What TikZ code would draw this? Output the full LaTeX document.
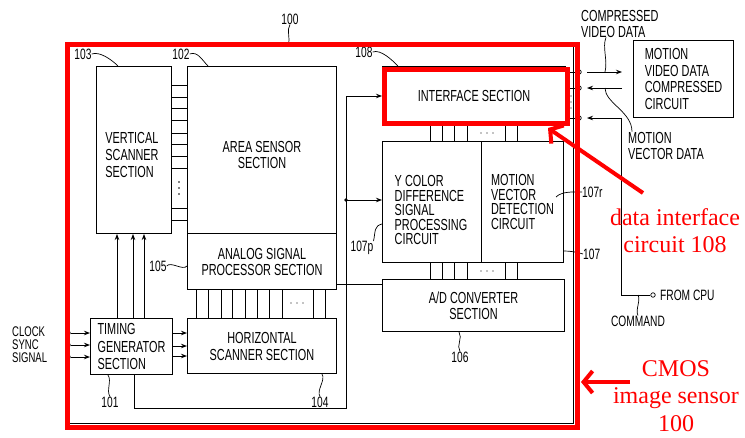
\documentclass[tikz,border=0pt]{standalone}
\usepackage{fontspec}
\newfontfamily\chipfam[FakeStretch=0.68]{Liberation Sans}
\newfontfamily\notefam{Liberation Serif}
\usetikzlibrary{
    arrows.meta,
    positioning
}

\begin{document}
\begin{tikzpicture}[x=1pt,y=-1pt,
    blk/.style={draw,line width=1pt,inner sep=0pt,anchor=north west,
        font=\chipfam\fontsize{16}{16}\selectfont,align=center},
    txt/.style={inner sep=0pt,font=\chipfam\fontsize{16}{16}\selectfont,align=left},
    num/.style={inner sep=0pt,font=\chipfam\fontsize{15}{16}\selectfont},
    lead/.style={line width=0.7pt},
    wire/.style={line width=0.9pt},
    sig/.style={line width=0.9pt,-{Stealth[length=6pt,width=4.5pt]}},
    term/.style={circle,draw,fill=white,line width=0.7pt,inner sep=0pt,minimum size=4.5pt},
    note/.style={inner sep=0pt,text=red,font=\notefam\fontsize{24}{27.5}\selectfont,align=center},
    callout/.style={red,line width=4pt,-{Straight Barb[length=9pt,width=22pt]}}
]

\useasboundingbox (0,0) rectangle (745,437);

% chip outline
\node[blk,minimum width=507pt,minimum height=378pt,line width=0.8pt] (chip) at (66,45) {};
\node[num] (l100) at (290,19) {100};
\draw[lead] (l100.south) .. controls +(-4,6) and +(3,-7) .. (chip.north -| 288,0);

% vertical scanner
\node[blk,minimum width=75pt,minimum height=167pt] (vscan) at (96,66) {};
\node[txt,font=\chipfam\fontsize{16}{17}\selectfont] (vscantxt) at (132,155) {VERTICAL\\SCANNER\\SECTION};
\node[num] (l103) at (83,54) {103};
\draw[lead] (l103.east) .. controls +(8,-3) and +(-6,-6) .. (vscan.north -| 118,0);

% area sensor, analog processor, horizontal scanner
\node[blk,minimum width=149pt,minimum height=167pt] (area) at (187,66) {};
\node[txt,align=center] (areatxt) at (262,155) {AREA SENSOR\\SECTION};
\node[num] (l102) at (181,54) {102};
\draw[lead] (l102.east) .. controls +(8,-3) and +(-6,-6) .. (area.north -| 208,0);
\node[blk,minimum width=149pt,minimum height=56pt] (asp) at (187,233) {ANALOG SIGNAL\\PROCESSOR SECTION};
\node[num] (l105) at (158,266) {105};
\draw[lead] (l105.east) .. controls +(4,-5) and +(-4,5) .. (asp.west |- 0,266);
\node[blk,minimum width=149pt,minimum height=55pt,font=\chipfam\fontsize{16}{17}\selectfont] (hscan) at (187,318) {HORIZONTAL\\SCANNER SECTION};
\node[num] (l104) at (320,402) {104};
\draw[lead] (l104.north) .. controls +(-4,-6) and +(4,6) .. (hscan.south -| 322,0);

% timing generator
\node[blk,minimum width=82pt,minimum height=56pt,align=left,font=\chipfam\fontsize{16}{17.5}\selectfont] (tgen) at (90,318) {TIMING\\GENERATOR\\SECTION};
\node[num] (l101) at (110,402) {101};
\draw[lead] (l101.north) .. controls +(-4,-6) and +(4,6) .. (tgen.south -| 108,0);

% interface, signal processing, A/D
\node[blk,minimum width=183pt,minimum height=58pt] (intf) at (382,66) {INTERFACE SECTION};
\node[num] (l108) at (364,52) {108};
\draw[lead] (l108.east) .. controls +(8,-3) and +(-6,-6) .. (intf.north -| 398,0);
\node[blk,minimum width=99pt,minimum height=121pt] (ycd) at (382,141) {};
\node[txt,font=\chipfam\fontsize{16}{14.5}\selectfont] (ycdtxt) at (431,210) {Y COLOR\\DIFFERENCE\\SIGNAL\\PROCESSING\\CIRCUIT};
\node[blk,minimum width=82pt,minimum height=121pt,align=left,font=\chipfam\fontsize{16}{14.5}\selectfont] (mvd) at (481,141) {MOTION\\VECTOR\\DETECTION\\CIRCUIT};
\node[blk,minimum width=182pt,minimum height=52pt] (adc) at (382,279) {A/D CONVERTER\\SECTION};
\node[num] (l106) at (460,357) {106};
\draw[lead] (l106.north) .. controls +(-4,-6) and +(4,6) .. (adc.south -| 459,0);
\node[num] (l107p) at (362,248) {107p};
\draw[lead] (l107p.north east) .. controls +(2,-10) and +(-8,2) .. (ycd.west |- 0,224);
\coordinate (p107r) at (556,197);
\node[num,anchor=west] (l107r) at (582,192) {107r};
\draw[lead] (p107r) .. controls +(6,-6) and +(-8,0) .. (l107r.west);
\node[num,anchor=west] (l107) at (583,254) {107};
\draw[lead] (mvd.east |- 0,251) .. controls +(6,0) and +(-6,-2) .. (l107.west);

% external compressor
\node[blk,minimum width=100pt,minimum height=77pt,align=left,font=\chipfam\fontsize{16}{16.7}\selectfont] (mvc) at (633,40) {MOTION\\VIDEO DATA\\COMPRESSED\\CIRCUIT};

% buses between blocks
\foreach \y in {85,97,108,120,133,144,156,168,208,220}{
    \draw[wire] (vscan.east |- 0,\y) -- (area.west |- 0,\y);
}
\foreach \y in {182,188,194}{
    \fill (179,\y) circle (0.9);
}
\foreach \x in {196,208,221,232,245,257,269,282,313,325}{
    \draw[wire] (asp.south -| \x,0) -- (hscan.north -| \x,0);
}
\foreach \x in {291,297,303}{
    \fill (\x,303) circle (0.7);
}
\foreach \x in {430,442,454,467,505,517}{
    \draw[wire] (intf.south -| \x,0) -- (ycd.north -| \x,0);
    \draw[wire] (ycd.south -| \x,0) -- (adc.north -| \x,0);
}
\foreach \x in {481,487,493}{
    \fill (\x,133) circle (0.7);
    \fill (\x,271) circle (0.7);
}

% timing signals
\foreach \x in {117,133,144}{
    \draw[sig] (tgen.north -| \x,0) -- (vscan.south -| \x,0);
}
\foreach \y in {333,346,356}{
    \draw[sig] (tgen.east |- 0,\y) -- (hscan.west |- 0,\y);
}
\node[txt,font=\chipfam\fontsize{14}{13}\selectfont,anchor=west] (inlbl) at (12,345) {CLOCK\\SYNC\\SIGNAL};
\foreach \y/\n in {333/a,345/b,357/c}{
    \node[term] (in\n) at (68,\y) {};
    \draw[sig] (in\n) -- (tgen.west |- in\n);
}

% control bus
\coordinate (busl) at (134,408);
\coordinate (busr) at (346,408);
\coordinate (bust) at (346,96);
\coordinate (tap) at (346,200);
\draw[sig] (tgen.south -| busl) -- (busl) -- (busr) -- (bust) -- (intf.west |- bust);
\fill (tap) circle (1.8);
\draw[sig] (tap) -- (ycd.west |- tap);
\draw[wire] (asp.east |- 0,284) -- (adc.west |- 0,284);

% external side
\foreach \y/\n in {72/a,88/b,118/c}{
    \node[term] (io\n) at (579,\y) {};
    \draw[wire] (intf.east |- io\n) -- (io\n);
}
\foreach \y in {96,102,108}{
    \fill (571,\y) circle (0.7);
}
\coordinate (cvda) at (587,72);
\coordinate (cvdb) at (622,72);
\coordinate (mvda) at (622,88);
\coordinate (mvdb) at (587,88);
\draw[sig] (cvda) -- (cvdb);
\draw[sig] (mvda) -- (mvdb);
\node[txt,anchor=west] (lcvd) at (581,23.5) {COMPRESSED\\VIDEO DATA};
\draw[lead] (lcvd.south -| 606,0) .. controls +(-4,10) and +(3,-12) .. (605,72);
\node[txt,anchor=west] (lmvd) at (628,145.5) {MOTION\\VECTOR DATA};
\draw[lead] (lmvd.north -| 632,0) .. controls +(0,-20) and +(0,15) .. (605,88);

% command from cpu
\node[term] (cpu) at (653,295) {};
\node[num,anchor=west] (cpulbl) at (660,295) {FROM CPU};
\coordinate (cmdc) at (621,118);
\coordinate (cmdh) at (587,118);
\draw[sig] (cpu) -| (cmdc) -- (cmdh);
\node[num] (lcmd) at (638,321) {COMMAND};
\draw[lead] (lcmd.north) .. controls +(-3,-5) and +(3,5) .. (cpu -| 638,0);

% highlights
\node[draw=red,line width=5pt,minimum width=183pt,minimum height=54pt,inner sep=0pt,anchor=north west] (intfhl) at (382,67) {};
\node[draw=red,line width=5pt,minimum width=510.5pt,minimum height=383pt,inner sep=0pt,anchor=north west] (cmos) at (64.5,42) {};
\node[note,anchor=north] (note1) at (675,208) {data interface\\circuit 108};
\node[note,anchor=north] (note2) at (676,360) {CMOS\\image sensor\\100};
\coordinate (c1) at (643,193);
\coordinate (c1t) at (548,128);
\coordinate (c2) at (630,382);
\coordinate (c2t) at (581,382);
\draw[callout] (c1) -- (c1t);
\draw[callout] (c2) -- (c2t);

\end{tikzpicture}
\end{document}
